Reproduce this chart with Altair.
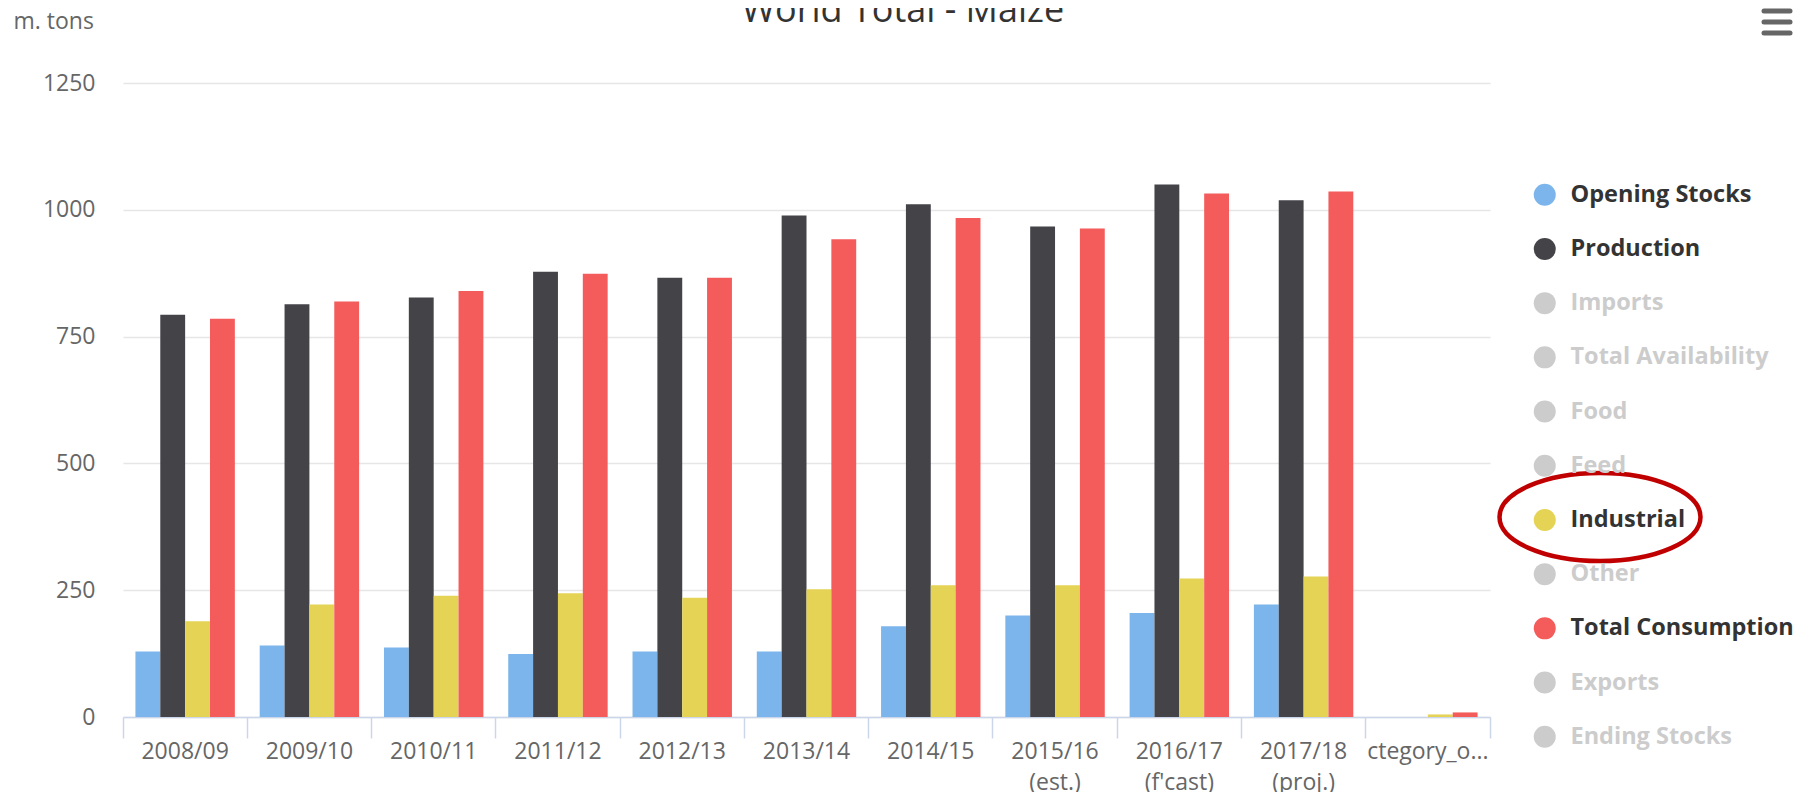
import altair as alt
import pandas as pd

# ---- data ----
categories = [
    "2008/09", "2009/10", "2010/11", "2011/12", "2012/13", "2013/14",
    "2014/15", "2015/16 (est.)", "2016/17 (f'cast)", "2017/18 (proj.)", "ctegory_o...",
]
all_series = [
    "Opening Stocks", "Production", "Imports", "Total Availability", "Food", "Feed",
    "Industrial", "Other", "Total Consumption", "Exports", "Ending Stocks",
]
series_colors = [
    "#7cb5ec", "#434348", "#cccccc", "#cccccc", "#cccccc", "#cccccc",
    "#e4d354", "#cccccc", "#f45b5b", "#cccccc", "#cccccc",
]
visible_series = ["Opening Stocks", "Production", "Industrial", "Total Consumption"]

opening_stocks = [129, 141, 137, 124, 129, 129, 179, 200, 205, 222, None]
production = [793, 814, 827, 878, 866, 989, 1011, 967, 1050, 1019, None]
industrial = [189, 222, 239, 244, 235, 252, 260, 260, 273, 277, 5]
total_consumption = [785, 819, 840, 874, 866, 942, 984, 963, 1032, 1036, 9]

y_ticks = [0, 250, 500, 750, 1000, 1250]
chart_title = "World Total - Maize"

rows = []
for name, vals in zip(visible_series, [opening_stocks, production, industrial, total_consumption]):
    for cat, v in zip(categories, vals):
        if v is not None:
            rows.append({"category": cat, "series": name, "value": v})
df = pd.DataFrame(rows)

FONT = "Open Sans"
LABEL = "#666666"

visible_expr = "indexof(['Opening Stocks','Production','Industrial','Total Consumption'], datum.label) >= 0 ? '#333333' : '#cccccc'"

bars = alt.Chart(df).mark_bar().encode(
    x=alt.X(
        "category:N",
        sort=categories,
        scale=alt.Scale(domain=categories, paddingInner=0, paddingOuter=0),
        axis=alt.Axis(
            title=None, bandPosition=1, tickExtra=True, tickSize=21,
            tickColor="#ccd6eb", tickWidth=1.5, domainColor="#ccd6eb", domainWidth=1.5,
            labelAngle=0, labelFont=FONT, labelFontSize=23, labelColor=LABEL,
            labelPadding=2, labelExpr="split(datum.label, ' ')", labelLineHeight=31,
            labelBaseline="top", grid=False, labelOverlap=False,
        ),
    ),
    xOffset=alt.XOffset(
        "series:N",
        scale=alt.Scale(domain=visible_series, paddingInner=0, paddingOuter=0.5),
    ),
    y=alt.Y(
        "value:Q",
        scale=alt.Scale(domain=[0, 1250], nice=False),
        axis=alt.Axis(
            values=y_ticks, format="d", title="m. tons", titleAngle=0, titleX=-110,
            titleY=-55, titleAlign="left", titleBaseline="alphabetic", titleFont=FONT,
            titleFontSize=23, titleFontWeight="normal", titleColor=LABEL,
            labelFont=FONT, labelFontSize=23, labelColor=LABEL, labelPadding=28,
            ticks=False, tickSize=0, domain=False, gridColor="#e6e6e6", gridWidth=1.5,
        ),
    ),
    color=alt.Color(
        "series:N",
        scale=alt.Scale(domain=all_series, range=series_colors),
        legend=alt.Legend(
            orient="none", legendX=1410, legendY=100, title=None,
            symbolType="circle", symbolSize=484, symbolStrokeWidth=0,
            labelFont=FONT, labelFontSize=23.5, labelFontWeight="bold",
            labelColor={"expr": visible_expr}, rowPadding=29.2, labelOffset=14,
            labelLimit=400,
        ),
    ),
)

title_text = alt.Chart(pd.DataFrame({"a": [0]})).mark_text(
    text=chart_title, font=FONT, fontSize=36, color="#333333",
    align="center", baseline="alphabetic",
).encode(x=alt.value(780), y=alt.value(-61))

ellipse = alt.Chart(pd.DataFrame({"a": [0]})).mark_point(
    shape="M -1 0 A 1 0.438 0 1 0 1 0 A 1 0.438 0 1 0 -1 0 Z",
    filled=False, stroke="#c00000", strokeWidth=4.5, size=40401, opacity=1,
).encode(x=alt.value(1477), y=alt.value(434))

menu_layers = []
for yy in [-72, -61, -50]:
    menu_layers.append(
        alt.Chart(pd.DataFrame({"a": [0]})).mark_rule(
            color="#666666", strokeWidth=5, strokeCap="round"
        ).encode(x=alt.value(1641), x2=alt.value(1667), y=alt.value(yy))
    )

chart = alt.layer(bars, title_text, ellipse, *menu_layers).properties(
    width=1367,
    height=634,
    autosize=alt.AutoSizeParams(type="none"),
    padding={"left": 115, "top": 75, "right": 305, "bottom": 75},
).configure(background="white").configure_view(stroke=None)

chart.save("out.html", embed_options={"renderer": "svg", "actions": False})
